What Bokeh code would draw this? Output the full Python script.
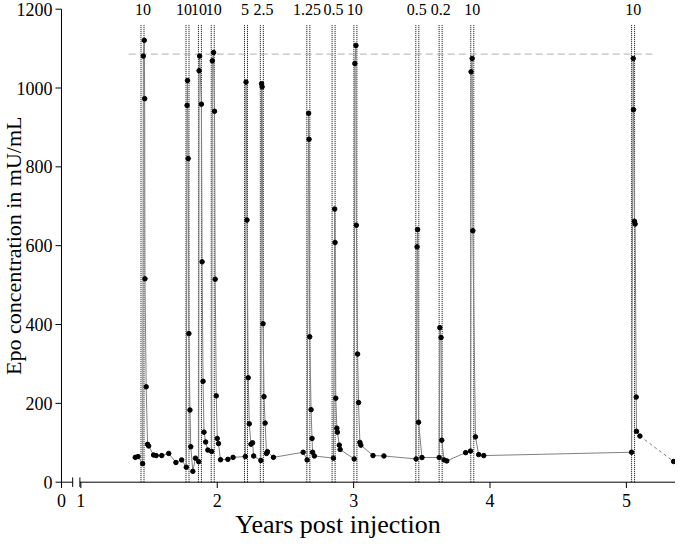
import math
from bokeh.plotting import figure
from bokeh.models import Range1d, FixedTicker
from bokeh.core.properties import value
from bokeh.embed import file_html
from bokeh.resources import INLINE

# ---------------- data ----------------
years = [
    1.399, 1.419, 1.453,
    1.458, 1.465, 1.468, 1.470, 1.479, 1.489, 1.497,
    1.533, 1.552, 1.593, 1.644, 1.697, 1.739, 1.773,
    1.779, 1.782, 1.787, 1.792, 1.800, 1.806, 1.821, 1.840, 1.864,
    1.867, 1.871, 1.884, 1.889, 1.896, 1.903, 1.915, 1.931, 1.959,
    1.964, 1.973, 1.980, 1.985, 1.993, 2.000, 2.009, 2.024, 2.078, 2.116, 2.206,
    2.211, 2.218, 2.227, 2.235, 2.247, 2.259, 2.267, 2.320,
    2.325, 2.329, 2.336, 2.343, 2.351, 2.361, 2.368, 2.412, 2.630, 2.659,
    2.670, 2.673, 2.678, 2.688, 2.695, 2.699, 2.712, 2.852,
    2.861, 2.864, 2.869, 2.877, 2.881, 2.895, 2.901, 3.004,
    3.009, 3.017, 3.020, 3.029, 3.036, 3.046, 3.053, 3.142, 3.222, 3.458,
    3.465, 3.469, 3.476, 3.501, 3.627,
    3.632, 3.641, 3.646, 3.663, 3.683, 3.821, 3.857,
    3.861, 3.869, 3.874, 3.893, 3.917, 3.954, 5.038,
    5.050, 5.052, 5.059, 5.064, 5.072, 5.074, 5.099,
]
epo = [
    63, 65, 47,
    1081, 1121, 973, 516, 242, 96, 92,
    69, 67.5, 67.5, 73, 50, 56.5, 38,
    956, 1019, 821, 377, 183, 90, 27.5, 61, 52,
    1044, 1081, 959, 559, 256, 127, 102, 81.5, 78,
    1069, 1090, 941, 515, 219, 111, 98, 57, 58, 63, 65,
    1015, 665, 265, 148, 96.5, 100, 66.5, 55,
    1011, 1003, 402, 217, 150, 73, 77.5, 63, 76, 56.5,
    936, 870, 369, 184, 111, 76, 66.5, 61,
    693, 608, 213, 137, 127, 94, 83, 59,
    1062, 1108, 652, 325, 202, 101, 94, 67.5, 66.5, 59,
    597, 641, 152, 62.5, 62.5,
    392, 367, 106.5, 56.5, 54, 75, 79,
    1041, 1075, 638, 115, 70, 67.5, 76,
    1075, 945, 662, 655, 216, 129, 117,
]
# extrapolated (dashed) tail
tail_years = [5.099, 5.346]
tail_epo = [117, 52.5]

# injections: two dotted lines per injection and the dose label
inj_start = [1.441, 1.771, 1.862, 1.956, 2.200, 2.316, 2.657, 2.842, 3.002, 3.456, 3.627, 3.859, 5.038]
inj_end = [1.463, 1.793, 1.884, 1.978, 2.222, 2.338, 2.679, 2.864, 3.024, 3.478, 3.649, 3.881, 5.060]
dose_labels = ["10", "10", "10", "10", "5", "2.5", "1.25", "0.5", "10", "0.5", "0.2", "10", "10"]
dose_label_x = [1.455, 1.757, 1.866, 1.975, 2.203, 2.339, 2.659, 2.852, 3.009, 3.462, 3.639, 3.869, 5.050]
dose_label_y = 1200
inj_line_top = 1161

# horizontal reference level (dashed)
ref_level = 1086
ref_x = [1.351, 5.19]

# axes
y_ticks = [0, 200, 400, 600, 800, 1000, 1200]
y_tick_labels = ["0", "200", "400", "600", "800", "1000", "1200"]
x_tick_pos = [0.858, 1, 2, 3, 4, 5]
x_tick_labels = ["0", "1", "2", "3", "4", "5"]
y_axis_x = 0.858            # where the y axis stands (the "0" of the broken x axis)
x_start, x_end = 0.4108, 5.36
break_left, break_right = 0.94, 0.993
y_title = "Epo concentration in mU/mL"
x_title = "Years post injection"

FONT = "Liberation Serif"

# ---------------- figure ----------------
p = figure(width=675, height=543, output_backend="svg", toolbar_location=None,
           x_range=Range1d(x_start, x_end), y_range=Range1d(-16, 1222),
           y_axis_location=None,
           min_border_left=0, min_border_right=0, min_border_top=0, min_border_bottom=55)
p.outline_line_color = None
p.grid.visible = False
p.background_fill_color = "white"

# x axis (tick labels + title from Bokeh; line, ticks and break drawn as glyphs)
xa = p.xaxis[0]
xa.ticker = FixedTicker(ticks=x_tick_pos)
xa.major_label_overrides = dict(zip(x_tick_pos, x_tick_labels))
xa.axis_line_color = None
xa.major_tick_line_color = None
xa.minor_tick_line_color = None
xa.major_tick_out = 0
xa.major_tick_in = 0
xa.major_label_standoff = 5
xa.major_label_text_font = FONT
xa.major_label_text_font_size = "18px"
xa.major_label_text_color = "black"
xa.axis_label = x_title
xa.axis_label_text_font = FONT
xa.axis_label_text_font_size = "26px"
xa.axis_label_text_font_style = "normal"
xa.axis_label_text_color = "black"
xa.axis_label_standoff = 0

# broken x axis line, break marks, ticks
p.segment(x0=[y_axis_x, break_right], y0=[0, 0], x1=[break_left, x_end], y1=[0, 0],
          line_color="black", line_width=1)
p.segment(x0=[break_left, break_right], y0=[-12, -12], x1=[break_left, break_right], y1=[12, 12],
          line_color="black", line_width=1)
p.segment(x0=x_tick_pos, y0=[0] * len(x_tick_pos), x1=x_tick_pos, y1=[-15] * len(x_tick_pos),
          line_color="black", line_width=1)

# y axis: line, outward ticks, labels, title
p.segment(x0=[y_axis_x], y0=[y_ticks[0]], x1=[y_axis_x], y1=[y_ticks[-1]],
          line_color="black", line_width=1)
p.segment(x0=[y_axis_x] * len(y_ticks), y0=y_ticks, x1=[y_axis_x - 0.044] * len(y_ticks), y1=y_ticks,
          line_color="black", line_width=1)
p.text(x=[y_axis_x] * len(y_ticks), y=y_ticks, text=y_tick_labels, x_offset=-9,
       text_font=value(FONT), text_font_size="18px", text_align="right",
       text_baseline="middle", text_color="black")
p.text(x=[y_axis_x], y=[600], text=[y_title], x_offset=-48, angle=math.pi / 2,
       text_font=value(FONT), text_font_size="22px", text_align="center",
       text_baseline="middle", text_color="black")

# injection dotted lines
inj_x = inj_start + inj_end
p.segment(x0=inj_x, y0=[0] * len(inj_x), x1=inj_x, y1=[inj_line_top] * len(inj_x),
          line_color="black", line_width=1, line_dash="1 1")

# dashed reference level
p.line(ref_x, [ref_level, ref_level], line_color="#b0b0b0", line_width=1, line_dash="7 4")

# data
p.line(years, epo, line_color="#808080", line_width=1)
p.line(tail_years, tail_epo, line_color="#808080", line_width=1, line_dash="3 3")
p.scatter(years + tail_years[1:], epo + tail_epo[1:], marker="circle", size=4.5,
          fill_color="black", line_color="black")

# dose labels
p.text(x=dose_label_x, y=[dose_label_y] * len(dose_label_x), text=dose_labels,
       text_font=value(FONT), text_font_size="16px", text_align="center",
       text_baseline="middle", text_color="black")

open("out.html", "w").write(file_html(p, INLINE))
